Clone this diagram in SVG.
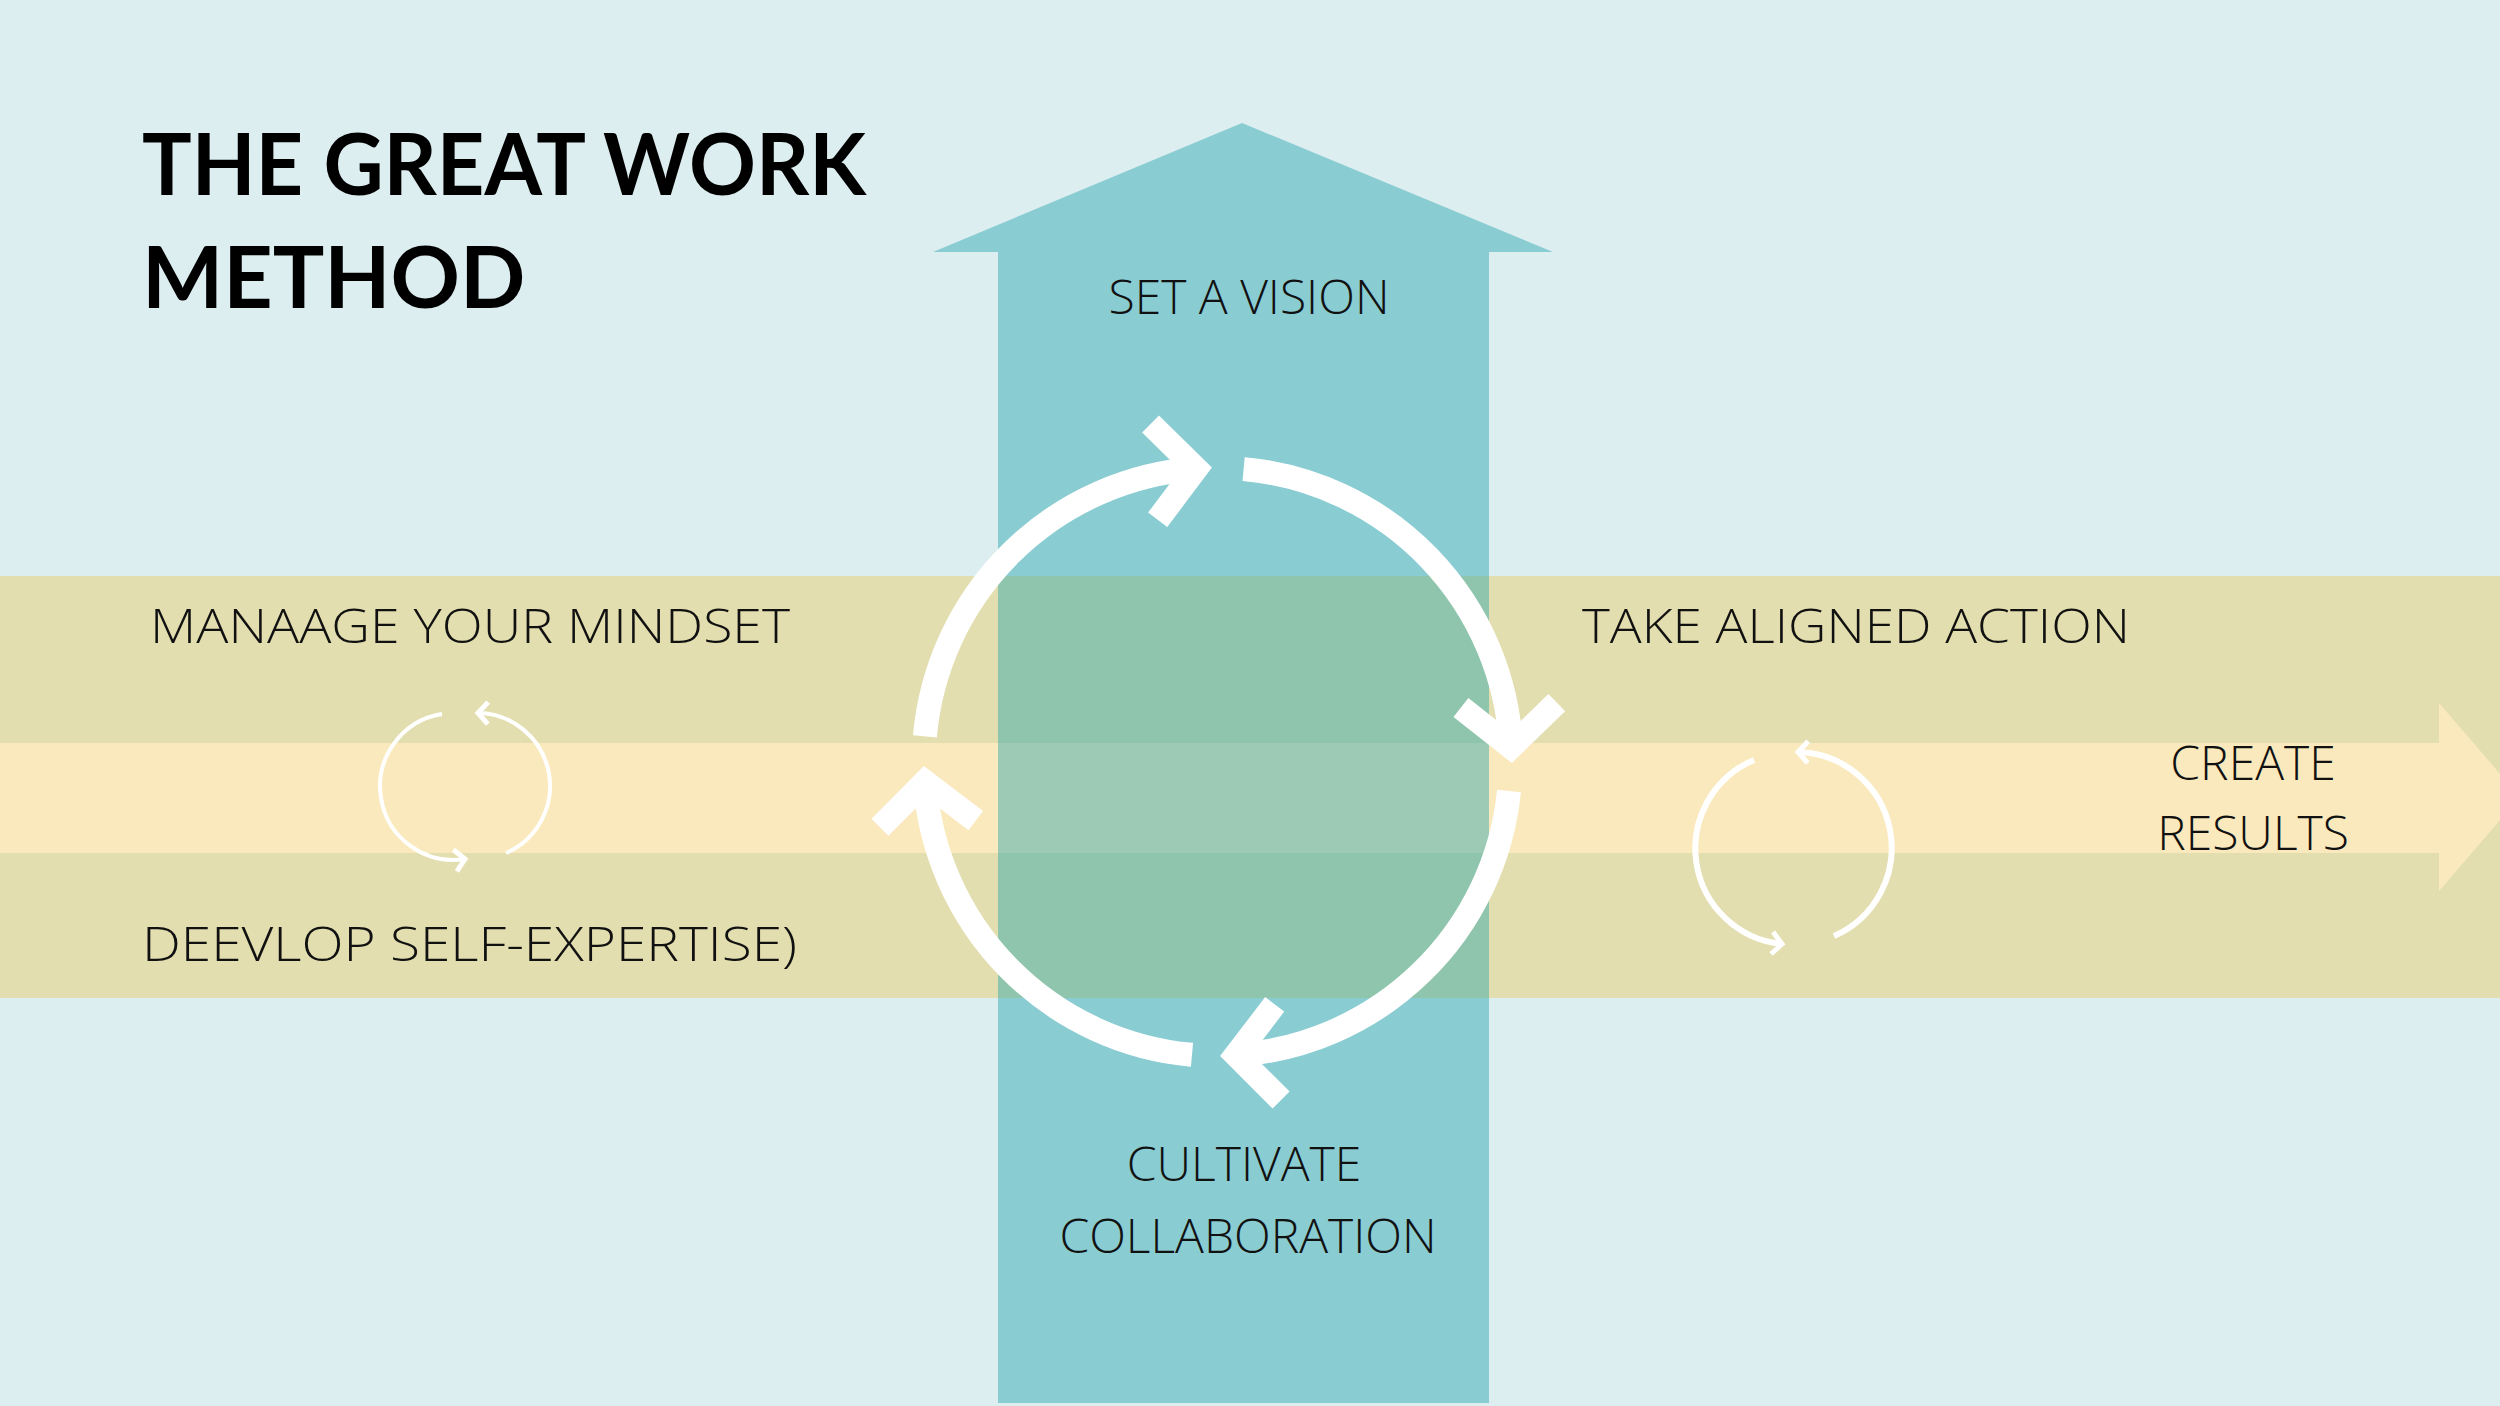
<svg xmlns="http://www.w3.org/2000/svg" width="2500" height="1406" viewBox="0 0 2500 1406">
<defs>
<style>
.lbl{font-family:"Open Sans","Liberation Sans",sans-serif;font-weight:300;font-size:48px;fill:#111}
.ttl{font-family:"Lato","Liberation Sans",sans-serif;font-weight:700;font-size:86px;fill:#000}
.big{fill:none;stroke:#fff;stroke-width:24}
.sm{fill:none;stroke:#fff}
</style>
<marker id="chev" markerUnits="userSpaceOnUse" viewBox="-60 -60 80 120" markerWidth="80" markerHeight="120" refX="0" refY="0" orient="auto" overflow="visible">
<path d="M-42 -48 L0 0 L-42 48" fill="none" stroke="#fff" stroke-width="24"/>
</marker>
<marker id="chevS" markerUnits="userSpaceOnUse" viewBox="-20 -20 30 40" markerWidth="30" markerHeight="40" refX="0" refY="0" orient="auto" overflow="visible">
<path d="M-10 -11 L0 0 L-10 11" fill="none" stroke="#fff" stroke-width="5"/>
</marker>
</defs>
<rect width="2500" height="1406" fill="#DDEEF0"/>
<g id="band"><rect x="0" y="576" width="2500" height="422" fill="#E3DEAF"/></g>
<g id="result-arrow"><polygon points="0,743 2439,743 2439,703 2520,797 2439,891 2439,853 0,853" fill="#FAE9BC"/></g>
<g id="vision-arrow">
<polygon points="933,252 1242,123 1553,252 1489,252 1489,1403 998,1403 998,252" fill="#89CCD2"/>
<rect x="998" y="576" width="491" height="422" fill="#8FC5AD"/>
<rect x="998" y="743" width="491" height="110" fill="#9DCAB5"/>
</g>
<g id="title"><text class="ttl" x="142" y="195" textLength="724" lengthAdjust="spacingAndGlyphs">THE GREAT WORK</text><text class="ttl" x="142" y="308">METHOD</text></g>
<g id="labels">
<text class="lbl" x="1249" y="314" text-anchor="middle">SET A VISION</text>
<text class="lbl" x="150" y="643" textLength="640" lengthAdjust="spacingAndGlyphs">MANAAGE YOUR MINDSET</text>
<text class="lbl" x="1582" y="643" textLength="548" lengthAdjust="spacingAndGlyphs">TAKE ALIGNED ACTION</text>
<text class="lbl" x="142" y="961" textLength="655" lengthAdjust="spacingAndGlyphs">DEEVLOP SELF-EXPERTISE)</text>
<text class="lbl" x="2253" y="780" text-anchor="middle">CREATE</text>
<text class="lbl" x="2253" y="850" text-anchor="middle">RESULTS</text>
<text class="lbl" x="1244" y="1181" text-anchor="middle">CULTIVATE</text>
<text class="lbl" x="1248" y="1253" text-anchor="middle">COLLABORATION</text>
</g>
<g id="connectors">
<path class="big" d="M924.9 736.4 A294 294 0 0 1 1196 468.8" marker-end="url(#chev)"/>
<path class="big" d="M1243.6 469.1 A294 294 0 0 1 1511 747" marker-end="url(#chev)"/>
<path class="big" d="M1509 791 A294 294 0 0 1 1236 1055" marker-end="url(#chev)"/>
<path class="big" d="M1192 1054.8 A294 294 0 0 1 925 782" marker-end="url(#chev)"/>
<path class="sm" stroke-width="4" d="M442 714 A73 73 0 0 0 465 859" marker-end="url(#chevS)"/>
<path class="sm" stroke-width="4" d="M506 853 A73 73 0 0 0 478 713" marker-end="url(#chevS)"/>
<path class="sm" stroke-width="6" d="M1754 760 A96 96 0 0 0 1782 944" marker-end="url(#chevS)"/>
<path class="sm" stroke-width="6" d="M1834 936 A96 96 0 0 0 1798 752" marker-end="url(#chevS)"/>
</g>
</svg>
